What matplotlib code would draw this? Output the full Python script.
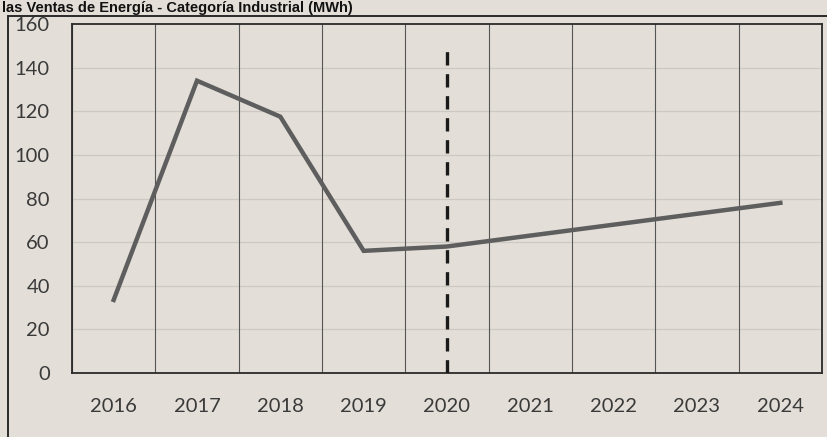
import matplotlib.pyplot as plt
from matplotlib.patches import Rectangle

# datos
anios = ["2016", "2017", "2018", "2019", "2020", "2021", "2022", "2023", "2024"]
ventas = [33.5, 134, 117.5, 56, 58, 63, 68, 73, 78]
yticks = [0, 20, 40, 60, 80, 100, 120, 140, 160]
corte = "2020"

paper = "#e3dfd8"

fig = plt.figure(figsize=(8.28, 4.37), dpi=100, facecolor=paper)
ax = fig.add_axes([72/828, 64/437, 750/828, 349/437])
ax.set_facecolor(paper)

x = list(range(len(anios)))
ax.plot(x, ventas, color="#5e5e5e", lw=3.2, solid_joinstyle="miter", zorder=3)

xc = anios.index(corte)
ax.plot([xc, xc], [0, 150], color="#1a1a1a", lw=2.4, ls=(0, (4, 2.6)), zorder=4)

ax.set_xlim(-0.5, len(anios) - 0.5)
ax.set_ylim(0, 160)
ax.set_yticks(yticks)
ax.set_xticks(x)
ax.set_xticklabels(anios)

# rejilla: verticales entre categorias, horizontales suaves
for i in range(len(anios) + 1):
    ax.axvline(i - 0.5, color="#555555", lw=0.8, zorder=1)
for v in yticks[1:-1]:
    ax.axhline(v, color="#cdc9c2", lw=0.9, zorder=0.5)

for s in ax.spines.values():
    s.set_color("#2a2a2a")
    s.set_linewidth(1.3)

ax.tick_params(length=0, labelsize=14.5, labelcolor="#3a3a3a")
ax.tick_params(axis="x", pad=18)
ax.tick_params(axis="y", pad=16)
for lab in ax.get_xticklabels() + ax.get_yticklabels():
    lab.set_fontfamily("Lato")

# marco exterior
fig.patches.append(Rectangle((8/828, -0.05), 1.0, (437 - 16)/437 + 0.05,
                             transform=fig.transFigure, fill=False,
                             edgecolor="#2a2a2a", lw=1.4))

fig.text(2/828, 1 - 1/437, "las Ventas de Energía - Categoría Industrial (MWh)",
         fontsize=10.5, fontweight="bold", family="Liberation Sans",
         color="#111111", va="top", ha="left")

fig.savefig("out.png", dpi=100, facecolor=paper)
